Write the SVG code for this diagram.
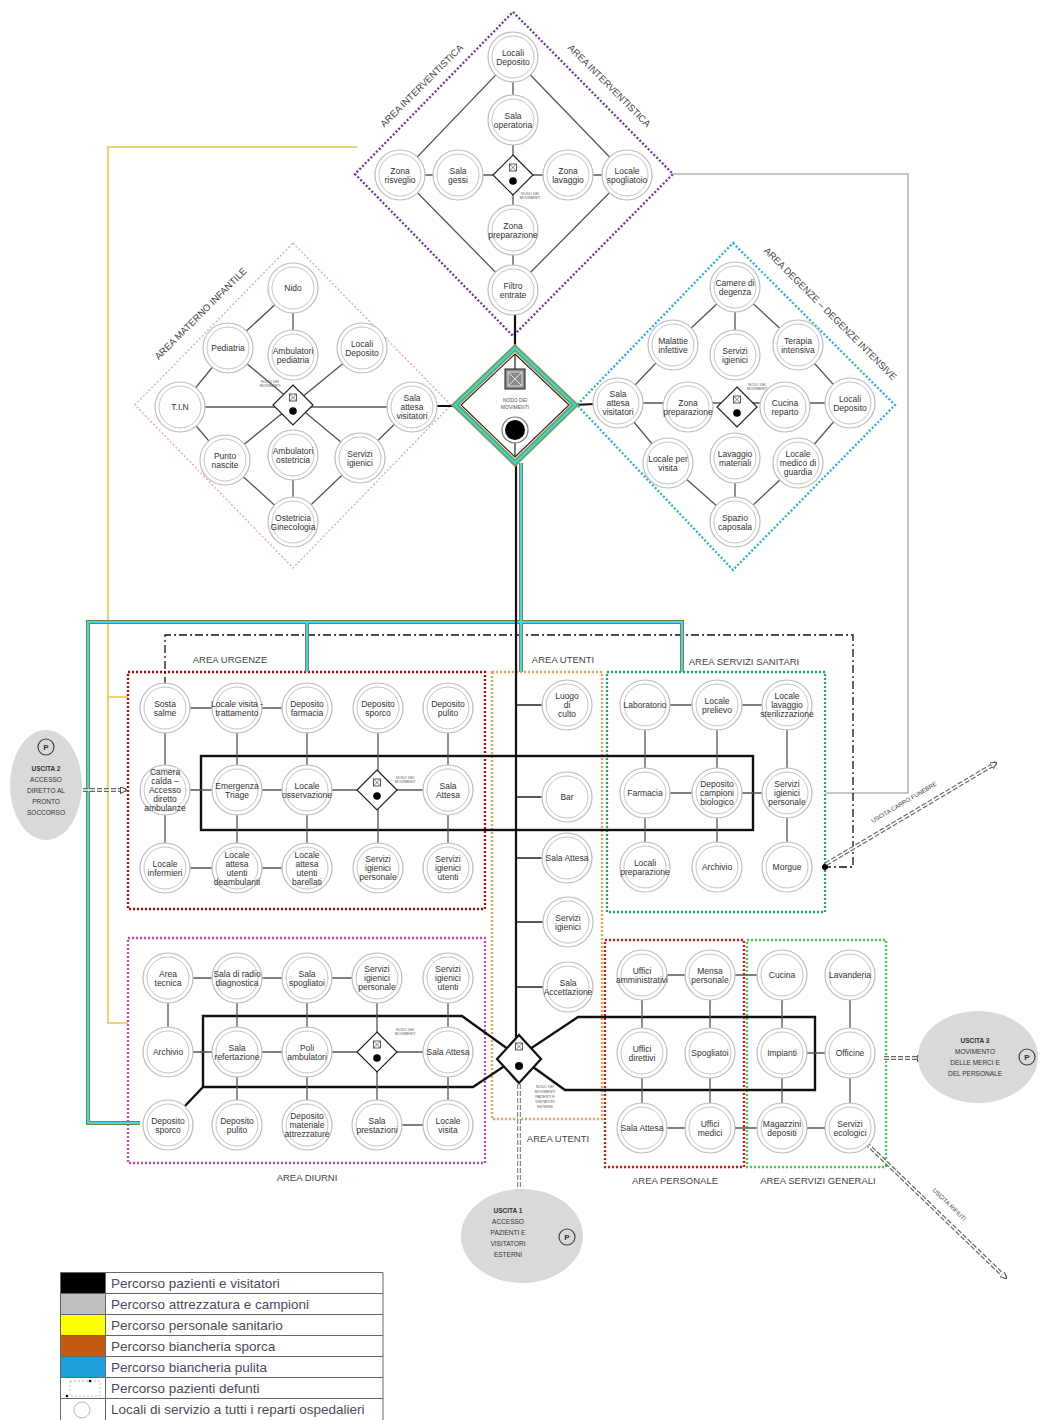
<svg xmlns="http://www.w3.org/2000/svg" xmlns:xlink="http://www.w3.org/1999/xlink" width="1043" height="1420" viewBox="0 0 1043 1420">
<defs>
<style>
.t{font-family:"Liberation Sans",Arial,sans-serif;font-size:8.5px;fill:#333;text-anchor:middle}
.lbl{font-family:"Liberation Sans",Arial,sans-serif;font-size:9.5px;fill:#444;text-anchor:middle}
.tiny{font-family:"Liberation Sans",Arial,sans-serif;font-size:3.6px;fill:#555;text-anchor:middle}
.ex{font-family:"Liberation Sans",Arial,sans-serif;font-size:6.5px;fill:#333;text-anchor:middle}
.exb{font-weight:bold}
.lg{font-family:"Liberation Sans",Arial,sans-serif;font-size:13.5px;fill:#4a4a60}
.c{stroke:#555;stroke-width:1.3;fill:none}
.area{fill:none;stroke-width:2.3;stroke-dasharray:2 2}
.blk{fill:none;stroke:#111;stroke-width:2.4}
.tealo{fill:none;stroke:#7a8048;stroke-width:4}
.teali{fill:none;stroke:#45d6e0;stroke-width:2.2}
.dbl{fill:none;stroke:#666;stroke-width:4;stroke-dasharray:5 2}
.dbli{fill:none;stroke:#fff;stroke-width:1.6}
.def{fill:none;stroke:#111;stroke-width:1.3;stroke-dasharray:8 3 2 3}
</style>
<g id="ring"><circle r="25" fill="#fff" stroke="#bdbdbd" stroke-width="1.2"/><circle r="21" fill="none" stroke="#c6c6c6" stroke-width="1"/></g>
<g id="mini"><path d="M0,-20 L20,0 L0,20 L-20,0Z" fill="#fff" stroke="#222" stroke-width="1.2"/><rect x="-3.5" y="-11" width="7" height="7" fill="none" stroke="#333" stroke-width="0.8"/><path d="M-3.5,-11 L3.5,-4 M3.5,-11 L-3.5,-4" stroke="#333" stroke-width="0.6"/><circle cy="6" r="3.8" fill="#000"/></g>
<g id="pk"><circle r="8" fill="none" stroke="#444" stroke-width="1.2"/><text y="3" class="ex exb" style="font-size:8px">P</text></g>
<marker id="ar" viewBox="0 0 10 10" refX="8" refY="5" markerWidth="7" markerHeight="7" orient="auto" markerUnits="userSpaceOnUse"><path d="M0,0 L10,5 L0,10z" fill="#fff" stroke="#555" stroke-width="1.5"/></marker>
</defs>
<rect width="1043" height="1420" fill="#fff"/>

<!-- area outlines -->
<g id="areas">
<polygon class="area" points="513,12 673,174 513,336 355,174" stroke="#7030a0"/>
<polygon class="area" points="293,243 451,405 293,568 135,405" stroke="#e6a3b5" style="stroke-width:1.3"/>
<polygon class="area" points="733,243 895,405 733,570 577,405" stroke="#23b3d6"/>
<rect class="area" x="128" y="672" width="357" height="237" stroke="#c00000"/>
<rect class="area" x="492" y="672" width="110" height="447" stroke="#f0a050"/>
<rect class="area" x="607" y="672" width="218" height="240" stroke="#10b060"/>
<rect class="area" x="128" y="938" width="357" height="225" stroke="#d040b0"/>
<rect class="area" x="605" y="940" width="139" height="227" stroke="#e01010"/>
<rect class="area" x="747" y="940" width="139" height="227" stroke="#40d040"/>
<text class="lbl" transform="translate(424,88) rotate(-45)">AREA INTERVENTISTICA</text>
<text class="lbl" transform="translate(607,88) rotate(45)">AREA INTERVENTISTICA</text>
<text class="lbl" transform="translate(203,316) rotate(-45)">AREA MATERNO INFANTILE</text>
<text class="lbl" transform="translate(828,316) rotate(45)">AREA DEGENZE – DEGENZE INTENSIVE</text>
<text class="lbl" x="230" y="663">AREA URGENZE</text>
<text class="lbl" x="563" y="663">AREA UTENTI</text>
<text class="lbl" x="744" y="665">AREA SERVIZI SANITARI</text>
<text class="lbl" x="307" y="1181">AREA DIURNI</text>
<text class="lbl" x="558" y="1142">AREA UTENTI</text>
<text class="lbl" x="675" y="1184">AREA PERSONALE</text>
<text class="lbl" x="818" y="1184">AREA SERVIZI GENERALI</text>
</g>

<!-- connectors -->
<g id="connectors">
<!-- routes -->
<path d="M357,147 L108,147 L108,1023 L128,1023 M108,697 L128,697" fill="none" stroke="#f2c445" stroke-width="1.6"/>
<path d="M673,174 L908,174 L908,793 L826,793" fill="none" stroke="#b3b3b3" stroke-width="1.6"/>
<path class="def" d="M165,685 L165,635 L853,635 L853,867 L826,867"/>
<circle cx="165" cy="686" r="3" fill="#000"/>
<circle cx="825" cy="867" r="3" fill="#000"/>
<path class="tealo" d="M140,1123 L88,1123 L88,622 L682,622 L682,672 M307,622 L307,672 M521,463 L521,672"/>
<path class="teali" d="M140,1123 L88,1123 L88,622 L682,622 L682,672 M307,622 L307,672 M521,463 L521,672"/>
<path d="M515,313 L515,350 M437,406 L457,406 M573,405 L595,404" fill="none" stroke="#111" stroke-width="2.2"/>
<path d="M516,460 L516,1037" fill="none" stroke="#111" stroke-width="2.2"/>
<path d="M516,705 L542,705 M516,797 L542,797 M516,858 L542,858 M516,922 L543,922 M516,987 L543,987" fill="none" stroke="#222" stroke-width="1.4"/>
<rect class="blk" x="201" y="756" width="552" height="74"/>
<path class="blk" d="M203,1016 L462,1016 L565,1090 L815,1090 L815,1017 L578,1017 L473,1087 L203,1087 Z M203,1087 L185,1106"/>
<!-- exits -->
<path class="dbl" d="M83,790 L126,790"/><path class="dbli" d="M83,790 L126,790" marker-end="url(#ar)"/>
<path class="dbl" d="M884,1058 L923,1058"/><path class="dbli" d="M884,1058 L923,1058" marker-end="url(#ar)"/>
<path class="dbl" d="M826,864 L996,763"/><path class="dbli" d="M826,864 L996,763" marker-end="url(#ar)"/>
<path class="dbl" d="M866,1143 L1006,1278"/><path class="dbli" d="M866,1143 L1006,1278" marker-end="url(#ar)"/>
<path class="dbl" d="M519,1084 L519,1190" style="stroke:#7a8aa0"/><path class="dbli" d="M519,1084 L519,1190"/>
<text class="ex" transform="translate(905,804) rotate(-30.7)" style="font-size:6px">USCITA CARRO FUNEBRE</text>
<text class="ex" transform="translate(948,1206) rotate(44)" style="font-size:6px">USCITA RIFIUTI</text>
<!-- interventistica -->
<path class="c" d="M513,57 L513,290 M400,175 L627,175 M513,57 L400,175 L513,290 L627,175 Z"/>
<!-- materno infantile -->
<path class="c" d="M293,288 L228,348 M293,288 L293,355 M228,348 L180,407 L225,460 L293,522 L360,458 L412,407 M293,522 L293,455 M180,407 L412,407 M228,348 L360,458 M362,348 L225,460"/>
<!-- degenze -->
<path class="c" d="M735,287 L673,345 L618,403 L668,463 L735,522 L798,463 L850,403 L798,345 L735,287 M735,287 L735,355 M735,458 L735,522 M618,403 L850,403"/>
<!-- urgenze -->
<path class="c" d="M165,708 L307,708 M165,790 L448,790 M165,868 L307,868 M165,708 L165,868 M237,708 L237,868 M307,708 L307,868 M378,708 L378,868 M448,708 L448,868"/>
<!-- servizi sanitari -->
<path class="c" d="M645,705 L787,705 M645,793 L787,793 M645,705 L645,867 M717,705 L717,867 M787,705 L787,867"/>
<!-- diurni -->
<path class="c" d="M168,978 L377,978 M168,1052 L448,1052 M377,1125 L448,1125 M168,978 L168,1052 M237,978 L237,1125 M307,978 L307,1125 M377,978 L377,1125 M448,978 L448,1125"/>
<!-- personale / generali -->
<path class="c" d="M642,975 L782,975 M782,1053 L850,1053 M642,1128 L850,1128 M642,975 L642,1128 M710,975 L710,1128 M782,975 L782,1128 M850,975 L850,1128"/>
</g>

<!-- central node -->
<g id="nodo-movimenti">
<path d="M515,348 L575,405 L515,463 L455,405 Z" fill="#fff" stroke="#c89a50" stroke-width="6"/>
<path d="M515,348 L575,405 L515,463 L455,405 Z" fill="none" stroke="#3fae6e" stroke-width="4.2"/>
<path d="M515,348 L575,405 L515,463 L455,405 Z" fill="none" stroke="#45d3e0" stroke-width="2"/>
<path d="M515,354 L569,405 L515,457 L461,405 Z" fill="none" stroke="#222" stroke-width="1.1"/>
<path d="M515,354 L515,369 M515,443 L515,457" stroke="#222" stroke-width="1.2"/>
<rect x="505" y="369" width="20" height="20" fill="#8a8a8a" stroke="#222" stroke-width="1"/>
<rect x="508" y="372" width="14" height="14" fill="none" stroke="#eee" stroke-width="0.8"/>
<path d="M508,372 L522,386 M522,372 L508,386" stroke="#eee" stroke-width="0.9"/>
<text class="tiny" x="515" y="402" style="font-size:5px">NODO DEI</text>
<text class="tiny" x="515" y="409" style="font-size:5px">MOVIMENTI</text>
<circle cx="515" cy="430" r="13" fill="#fff" stroke="#777" stroke-width="1.2"/>
<circle cx="515" cy="430" r="10" fill="#000"/>
</g>

<!-- mini nodes -->
<g id="mini-interventistica"><use href="#mini" x="513" y="175"/><text class="tiny" x="530" y="195">NODO DEI</text><text class="tiny" x="530" y="199">MOVIMENTI</text></g>
<g id="mini-materno"><use href="#mini" x="293" y="405"/><text class="tiny" x="270" y="383">NODO DEI</text><text class="tiny" x="270" y="387">MOVIMENTI</text></g>
<g id="mini-degenze"><use href="#mini" x="737" y="407"/><text class="tiny" x="757" y="386">NODO DEI</text><text class="tiny" x="757" y="390">MOVIMENTI</text></g>
<g id="mini-urgenze"><use href="#mini" x="377" y="790"/><text class="tiny" x="405" y="779">NODO DEI</text><text class="tiny" x="405" y="783">MOVIMENTI</text></g>
<g id="mini-diurni"><use href="#mini" x="377" y="1052"/><text class="tiny" x="405" y="1031">NODO DEI</text><text class="tiny" x="405" y="1035">MOVIMENTI</text></g>
<g id="mini-utenti">
<path d="M519,1035 L541,1059 L519,1083 L497,1059 Z" fill="#fff" stroke="#111" stroke-width="2.2"/>
<rect x="515.5" y="1043" width="7" height="7" fill="none" stroke="#333" stroke-width="0.8"/><path d="M515.5,1043 L522.5,1050 M522.5,1043 L515.5,1050" stroke="#333" stroke-width="0.6"/>
<circle cx="519" cy="1066" r="4" fill="#000"/>
<text class="tiny" x="545" y="1088">NODO DEI</text><text class="tiny" x="545" y="1093">MOVIMENTI</text><text class="tiny" x="545" y="1098">PAZIENTI E</text><text class="tiny" x="545" y="1103">VISITATORI</text><text class="tiny" x="545" y="1108">ESTERNI</text>
</g>

<!-- interventistica nodes -->
<g id="int-locali-deposito" transform="translate(513,57)"><use href="#ring"/><text class="t"><tspan x="0" y="-1.5">Locali</tspan><tspan x="0" y="7.5">Deposito</tspan></text></g>
<g id="int-sala-operatoria" transform="translate(513,120)"><use href="#ring"/><text class="t"><tspan x="0" y="-1.5">Sala</tspan><tspan x="0" y="7.5">operatoria</tspan></text></g>
<g id="int-zona-risveglio" transform="translate(400,175)"><use href="#ring"/><text class="t"><tspan x="0" y="-1.5">Zona</tspan><tspan x="0" y="7.5">risveglio</tspan></text></g>
<g id="int-sala-gessi" transform="translate(458,175)"><use href="#ring"/><text class="t"><tspan x="0" y="-1.5">Sala</tspan><tspan x="0" y="7.5">gessi</tspan></text></g>
<g id="int-zona-lavaggio" transform="translate(568,175)"><use href="#ring"/><text class="t"><tspan x="0" y="-1.5">Zona</tspan><tspan x="0" y="7.5">lavaggio</tspan></text></g>
<g id="int-locale-spogliatoio" transform="translate(627,175)"><use href="#ring"/><text class="t"><tspan x="0" y="-1.5">Locale</tspan><tspan x="0" y="7.5">spogliatoio</tspan></text></g>
<g id="int-zona-preparazione" transform="translate(513,230)"><use href="#ring"/><text class="t"><tspan x="0" y="-1.5">Zona</tspan><tspan x="0" y="7.5">preparazione</tspan></text></g>
<g id="int-filtro-entrate" transform="translate(513,290)"><use href="#ring"/><text class="t"><tspan x="0" y="-1.5">Filtro</tspan><tspan x="0" y="7.5">entrate</tspan></text></g>

<!-- materno infantile nodes -->
<g id="mat-nido" transform="translate(293,288)"><use href="#ring"/><text class="t"><tspan x="0" y="3">Nido</tspan></text></g>
<g id="mat-pediatria" transform="translate(228,348)"><use href="#ring"/><text class="t"><tspan x="0" y="3">Pediatria</tspan></text></g>
<g id="mat-ambulatori-pediatria" transform="translate(293,355)"><use href="#ring"/><text class="t"><tspan x="0" y="-1.5">Ambulatori</tspan><tspan x="0" y="7.5">pediatria</tspan></text></g>
<g id="mat-locali-deposito" transform="translate(362,348)"><use href="#ring"/><text class="t"><tspan x="0" y="-1.5">Locali</tspan><tspan x="0" y="7.5">Deposito</tspan></text></g>
<g id="mat-tin" transform="translate(180,407)"><use href="#ring"/><text class="t"><tspan x="0" y="3">T.I.N</tspan></text></g>
<g id="mat-sala-attesa" transform="translate(412,407)"><use href="#ring"/><text class="t"><tspan x="0" y="-6">Sala</tspan><tspan x="0" y="3">attesa</tspan><tspan x="0" y="12">visitatori</tspan></text></g>
<g id="mat-punto-nascite" transform="translate(225,460)"><use href="#ring"/><text class="t"><tspan x="0" y="-1.5">Punto</tspan><tspan x="0" y="7.5">nascite</tspan></text></g>
<g id="mat-ambulatori-ostetricia" transform="translate(293,455)"><use href="#ring"/><text class="t"><tspan x="0" y="-1.5">Ambulatori</tspan><tspan x="0" y="7.5">ostetricia</tspan></text></g>
<g id="mat-servizi-igienici" transform="translate(360,458)"><use href="#ring"/><text class="t"><tspan x="0" y="-1.5">Servizi</tspan><tspan x="0" y="7.5">igienici</tspan></text></g>
<g id="mat-ostetricia" transform="translate(293,522)"><use href="#ring"/><text class="t"><tspan x="0" y="-1.5">Ostetricia</tspan><tspan x="0" y="7.5">Ginecologia</tspan></text></g>

<!-- degenze nodes -->
<g id="deg-camere" transform="translate(735,287)"><use href="#ring"/><text class="t"><tspan x="0" y="-1.5">Camere di</tspan><tspan x="0" y="7.5">degenza</tspan></text></g>
<g id="deg-malattie" transform="translate(673,345)"><use href="#ring"/><text class="t"><tspan x="0" y="-1.5">Malattie</tspan><tspan x="0" y="7.5">infettive</tspan></text></g>
<g id="deg-servizi" transform="translate(735,355)"><use href="#ring"/><text class="t"><tspan x="0" y="-1.5">Servizi</tspan><tspan x="0" y="7.5">igienici</tspan></text></g>
<g id="deg-terapia" transform="translate(798,345)"><use href="#ring"/><text class="t"><tspan x="0" y="-1.5">Terapia</tspan><tspan x="0" y="7.5">intensiva</tspan></text></g>
<g id="deg-sala-attesa" transform="translate(618,403)"><use href="#ring"/><text class="t"><tspan x="0" y="-6">Sala</tspan><tspan x="0" y="3">attesa</tspan><tspan x="0" y="12">visitatori</tspan></text></g>
<g id="deg-zona-preparazione" transform="translate(688,407)"><use href="#ring"/><text class="t"><tspan x="0" y="-1.5">Zona</tspan><tspan x="0" y="7.5">preparazione</tspan></text></g>
<g id="deg-cucina" transform="translate(785,407)"><use href="#ring"/><text class="t"><tspan x="0" y="-1.5">Cucina</tspan><tspan x="0" y="7.5">reparto</tspan></text></g>
<g id="deg-locali-deposito" transform="translate(850,403)"><use href="#ring"/><text class="t"><tspan x="0" y="-1.5">Locali</tspan><tspan x="0" y="7.5">Deposito</tspan></text></g>
<g id="deg-locale-visita" transform="translate(668,463)"><use href="#ring"/><text class="t"><tspan x="0" y="-1.5">Locale per</tspan><tspan x="0" y="7.5">visita</tspan></text></g>
<g id="deg-lavaggio" transform="translate(735,458)"><use href="#ring"/><text class="t"><tspan x="0" y="-1.5">Lavaggio</tspan><tspan x="0" y="7.5">materiali</tspan></text></g>
<g id="deg-medico" transform="translate(798,463)"><use href="#ring"/><text class="t"><tspan x="0" y="-6">Locale</tspan><tspan x="0" y="3">medico di</tspan><tspan x="0" y="12">guardia</tspan></text></g>
<g id="deg-caposala" transform="translate(735,522)"><use href="#ring"/><text class="t"><tspan x="0" y="-1.5">Spazio</tspan><tspan x="0" y="7.5">caposala</tspan></text></g>

<!-- urgenze nodes -->
<g id="urg-sosta-salme" transform="translate(165,708)"><use href="#ring"/><text class="t"><tspan x="0" y="-1.5">Sosta</tspan><tspan x="0" y="7.5">salme</tspan></text></g>
<g id="urg-locale-visita" transform="translate(237,708)"><use href="#ring"/><text class="t"><tspan x="0" y="-1.5">Locale visita -</tspan><tspan x="0" y="7.5">trattamento</tspan></text></g>
<g id="urg-deposito-farmacia" transform="translate(307,708)"><use href="#ring"/><text class="t"><tspan x="0" y="-1.5">Deposito</tspan><tspan x="0" y="7.5">farmacia</tspan></text></g>
<g id="urg-deposito-sporco" transform="translate(378,708)"><use href="#ring"/><text class="t"><tspan x="0" y="-1.5">Deposito</tspan><tspan x="0" y="7.5">sporco</tspan></text></g>
<g id="urg-deposito-pulito" transform="translate(448,708)"><use href="#ring"/><text class="t"><tspan x="0" y="-1.5">Deposito</tspan><tspan x="0" y="7.5">pulito</tspan></text></g>
<g id="urg-camera-calda" transform="translate(165,790)"><use href="#ring"/><text class="t"><tspan x="0" y="-15">Camera</tspan><tspan x="0" y="-6">calda –</tspan><tspan x="0" y="3">Accesso</tspan><tspan x="0" y="12">diretto</tspan><tspan x="0" y="21">ambulanze</tspan></text></g>
<g id="urg-emergenza" transform="translate(237,790)"><use href="#ring"/><text class="t"><tspan x="0" y="-1.5">Emergenza</tspan><tspan x="0" y="7.5">Triage</tspan></text></g>
<g id="urg-osservazione" transform="translate(307,790)"><use href="#ring"/><text class="t"><tspan x="0" y="-1.5">Locale</tspan><tspan x="0" y="7.5">osservazione</tspan></text></g>
<g id="urg-sala-attesa" transform="translate(448,790)"><use href="#ring"/><text class="t"><tspan x="0" y="-1.5">Sala</tspan><tspan x="0" y="7.5">Attesa</tspan></text></g>
<g id="urg-infermieri" transform="translate(165,868)"><use href="#ring"/><text class="t"><tspan x="0" y="-1.5">Locale</tspan><tspan x="0" y="7.5">infermieri</tspan></text></g>
<g id="urg-attesa-deambulanti" transform="translate(237,868)"><use href="#ring"/><text class="t"><tspan x="0" y="-10.5">Locale</tspan><tspan x="0" y="-1.5">attesa</tspan><tspan x="0" y="7.5">utenti</tspan><tspan x="0" y="16.5">deambulanti</tspan></text></g>
<g id="urg-attesa-barellati" transform="translate(307,868)"><use href="#ring"/><text class="t"><tspan x="0" y="-10.5">Locale</tspan><tspan x="0" y="-1.5">attesa</tspan><tspan x="0" y="7.5">utenti</tspan><tspan x="0" y="16.5">barellati</tspan></text></g>
<g id="urg-servizi-personale" transform="translate(378,868)"><use href="#ring"/><text class="t"><tspan x="0" y="-6">Servizi</tspan><tspan x="0" y="3">igienici</tspan><tspan x="0" y="12">personale</tspan></text></g>
<g id="urg-servizi-utenti" transform="translate(448,868)"><use href="#ring"/><text class="t"><tspan x="0" y="-6">Servizi</tspan><tspan x="0" y="3">igienici</tspan><tspan x="0" y="12">utenti</tspan></text></g>

<!-- utenti nodes -->
<g id="ute-culto" transform="translate(567,705)"><use href="#ring"/><text class="t"><tspan x="0" y="-6">Luogo</tspan><tspan x="0" y="3">di</tspan><tspan x="0" y="12">culto</tspan></text></g>
<g id="ute-bar" transform="translate(567,797)"><use href="#ring"/><text class="t"><tspan x="0" y="3">Bar</tspan></text></g>
<g id="ute-sala-attesa" transform="translate(567,858)"><use href="#ring"/><text class="t"><tspan x="0" y="3">Sala Attesa</tspan></text></g>
<g id="ute-servizi" transform="translate(568,922)"><use href="#ring"/><text class="t"><tspan x="0" y="-1.5">Servizi</tspan><tspan x="0" y="7.5">igienici</tspan></text></g>
<g id="ute-accettazione" transform="translate(568,987)"><use href="#ring"/><text class="t"><tspan x="0" y="-1.5">Sala</tspan><tspan x="0" y="7.5">Accettazione</tspan></text></g>

<!-- servizi sanitari nodes -->
<g id="san-laboratorio" transform="translate(645,705)"><use href="#ring"/><text class="t"><tspan x="0" y="3">Laboratorio</tspan></text></g>
<g id="san-prelievo" transform="translate(717,705)"><use href="#ring"/><text class="t"><tspan x="0" y="-1.5">Locale</tspan><tspan x="0" y="7.5">prelievo</tspan></text></g>
<g id="san-lavaggio" transform="translate(787,705)"><use href="#ring"/><text class="t"><tspan x="0" y="-6">Locale</tspan><tspan x="0" y="3">lavaggio</tspan><tspan x="0" y="12">sterilizzazione</tspan></text></g>
<g id="san-farmacia" transform="translate(645,793)"><use href="#ring"/><text class="t"><tspan x="0" y="3">Farmacia</tspan></text></g>
<g id="san-campioni" transform="translate(717,793)"><use href="#ring"/><text class="t"><tspan x="0" y="-6">Deposito</tspan><tspan x="0" y="3">campioni</tspan><tspan x="0" y="12">biologico</tspan></text></g>
<g id="san-servizi" transform="translate(787,793)"><use href="#ring"/><text class="t"><tspan x="0" y="-6">Servizi</tspan><tspan x="0" y="3">igienici</tspan><tspan x="0" y="12">personale</tspan></text></g>
<g id="san-preparazione" transform="translate(645,867)"><use href="#ring"/><text class="t"><tspan x="0" y="-1.5">Locali</tspan><tspan x="0" y="7.5">preparazione</tspan></text></g>
<g id="san-archivio" transform="translate(717,867)"><use href="#ring"/><text class="t"><tspan x="0" y="3">Archivio</tspan></text></g>
<g id="san-morgue" transform="translate(787,867)"><use href="#ring"/><text class="t"><tspan x="0" y="3">Morgue</tspan></text></g>

<!-- diurni nodes -->
<g id="diu-area-tecnica" transform="translate(168,978)"><use href="#ring"/><text class="t"><tspan x="0" y="-1.5">Area</tspan><tspan x="0" y="7.5">tecnica</tspan></text></g>
<g id="diu-radio" transform="translate(237,978)"><use href="#ring"/><text class="t"><tspan x="0" y="-1.5">Sala di radio</tspan><tspan x="0" y="7.5">diagnostica</tspan></text></g>
<g id="diu-spogliatoi" transform="translate(307,978)"><use href="#ring"/><text class="t"><tspan x="0" y="-1.5">Sala</tspan><tspan x="0" y="7.5">spogliatoi</tspan></text></g>
<g id="diu-servizi-personale" transform="translate(377,978)"><use href="#ring"/><text class="t"><tspan x="0" y="-6">Servizi</tspan><tspan x="0" y="3">igienici</tspan><tspan x="0" y="12">personale</tspan></text></g>
<g id="diu-servizi-utenti" transform="translate(448,978)"><use href="#ring"/><text class="t"><tspan x="0" y="-6">Servizi</tspan><tspan x="0" y="3">igienici</tspan><tspan x="0" y="12">utenti</tspan></text></g>
<g id="diu-archivio" transform="translate(168,1052)"><use href="#ring"/><text class="t"><tspan x="0" y="3">Archivio</tspan></text></g>
<g id="diu-refertazione" transform="translate(237,1052)"><use href="#ring"/><text class="t"><tspan x="0" y="-1.5">Sala</tspan><tspan x="0" y="7.5">refertazione</tspan></text></g>
<g id="diu-poli" transform="translate(307,1052)"><use href="#ring"/><text class="t"><tspan x="0" y="-1.5">Poli</tspan><tspan x="0" y="7.5">ambulatori</tspan></text></g>
<g id="diu-sala-attesa" transform="translate(448,1052)"><use href="#ring"/><text class="t"><tspan x="0" y="3">Sala Attesa</tspan></text></g>
<g id="diu-deposito-sporco" transform="translate(168,1125)"><use href="#ring"/><text class="t"><tspan x="0" y="-1.5">Deposito</tspan><tspan x="0" y="7.5">sporco</tspan></text></g>
<g id="diu-deposito-pulito" transform="translate(237,1125)"><use href="#ring"/><text class="t"><tspan x="0" y="-1.5">Deposito</tspan><tspan x="0" y="7.5">pulito</tspan></text></g>
<g id="diu-deposito-materiale" transform="translate(307,1125)"><use href="#ring"/><text class="t"><tspan x="0" y="-6">Deposito</tspan><tspan x="0" y="3">materiale</tspan><tspan x="0" y="12">attrezzature</tspan></text></g>
<g id="diu-prestazioni" transform="translate(377,1125)"><use href="#ring"/><text class="t"><tspan x="0" y="-1.5">Sala</tspan><tspan x="0" y="7.5">prestazioni</tspan></text></g>
<g id="diu-locale-visita" transform="translate(448,1125)"><use href="#ring"/><text class="t"><tspan x="0" y="-1.5">Locale</tspan><tspan x="0" y="7.5">visita</tspan></text></g>

<!-- personale nodes -->
<g id="per-amministrativi" transform="translate(642,975)"><use href="#ring"/><text class="t"><tspan x="0" y="-1.5">Uffici</tspan><tspan x="0" y="7.5">amministrativi</tspan></text></g>
<g id="per-mensa" transform="translate(710,975)"><use href="#ring"/><text class="t"><tspan x="0" y="-1.5">Mensa</tspan><tspan x="0" y="7.5">personale</tspan></text></g>
<g id="per-direttivi" transform="translate(642,1053)"><use href="#ring"/><text class="t"><tspan x="0" y="-1.5">Uffici</tspan><tspan x="0" y="7.5">direttivi</tspan></text></g>
<g id="per-spogliatoi" transform="translate(710,1053)"><use href="#ring"/><text class="t"><tspan x="0" y="3">Spogliatoi</tspan></text></g>
<g id="per-sala-attesa" transform="translate(642,1128)"><use href="#ring"/><text class="t"><tspan x="0" y="3">Sala Attesa</tspan></text></g>
<g id="per-medici" transform="translate(710,1128)"><use href="#ring"/><text class="t"><tspan x="0" y="-1.5">Uffici</tspan><tspan x="0" y="7.5">medici</tspan></text></g>

<!-- servizi generali nodes -->
<g id="gen-cucina" transform="translate(782,975)"><use href="#ring"/><text class="t"><tspan x="0" y="3">Cucina</tspan></text></g>
<g id="gen-lavanderia" transform="translate(850,975)"><use href="#ring"/><text class="t"><tspan x="0" y="3">Lavanderia</tspan></text></g>
<g id="gen-impianti" transform="translate(782,1053)"><use href="#ring"/><text class="t"><tspan x="0" y="3">Impianti</tspan></text></g>
<g id="gen-officine" transform="translate(850,1053)"><use href="#ring"/><text class="t"><tspan x="0" y="3">Officine</tspan></text></g>
<g id="gen-magazzini" transform="translate(782,1128)"><use href="#ring"/><text class="t"><tspan x="0" y="-1.5">Magazzini</tspan><tspan x="0" y="7.5">depositi</tspan></text></g>
<g id="gen-ecologici" transform="translate(850,1128)"><use href="#ring"/><text class="t"><tspan x="0" y="-1.5">Servizi</tspan><tspan x="0" y="7.5">ecologici</tspan></text></g>

<!-- exits -->
<g id="uscita-2">
<ellipse cx="46" cy="785" rx="36" ry="55" fill="#d9d9d9"/>
<use href="#pk" x="46" y="747"/>
<text class="ex"><tspan x="46" y="771" class="exb">USCITA 2</tspan><tspan x="46" y="782">ACCESSO</tspan><tspan x="46" y="793">DIRETTO AL</tspan><tspan x="46" y="804">PRONTO</tspan><tspan x="46" y="815">SOCCORSO</tspan></text>
</g>
<g id="uscita-3">
<ellipse cx="978" cy="1057" rx="60" ry="46" fill="#d9d9d9"/>
<use href="#pk" x="1027" y="1057"/>
<text class="ex"><tspan x="975" y="1043" class="exb">USCITA 3</tspan><tspan x="975" y="1054">MOVIMENTO</tspan><tspan x="975" y="1065">DELLE MERCI E</tspan><tspan x="975" y="1076">DEL PERSONALE</tspan></text>
</g>
<g id="uscita-1">
<ellipse cx="522" cy="1236" rx="61" ry="47" fill="#d9d9d9"/>
<use href="#pk" x="567" y="1237"/>
<text class="ex"><tspan x="508" y="1213" class="exb">USCITA 1</tspan><tspan x="508" y="1224">ACCESSO</tspan><tspan x="508" y="1235">PAZIENTI E</tspan><tspan x="508" y="1246">VISITATORI</tspan><tspan x="508" y="1257">ESTERNI</tspan></text>
</g>

<!-- legend -->
<g id="legend">
<rect x="60.5" y="1272.5" width="45" height="21" fill="#000"/>
<rect x="60.5" y="1293.5" width="45" height="21" fill="#bfbfbf"/>
<rect x="60.5" y="1314.5" width="45" height="21" fill="#ffff00"/>
<rect x="60.5" y="1335.5" width="45" height="21" fill="#c55a11"/>
<rect x="60.5" y="1356.5" width="45" height="21" fill="#1ea0dc"/>
<rect x="70" y="1381" width="30" height="15" fill="none" stroke="#aaa" stroke-width="0.8" stroke-dasharray="2 2"/>
<circle cx="67" cy="1396" r="1.3" fill="#000"/><circle cx="90" cy="1381" r="1.3" fill="#000"/>
<circle cx="82" cy="1410" r="8" fill="none" stroke="#bbb" stroke-width="1"/>
<path d="M60.5,1272.5 L383,1272.5 L383,1420 M60.5,1420 L60.5,1272.5 M105.5,1272.5 L105.5,1420 M60.5,1293.5 L383,1293.5 M60.5,1314.5 L383,1314.5 M60.5,1335.5 L383,1335.5 M60.5,1356.5 L383,1356.5 M60.5,1377.5 L383,1377.5 M60.5,1398.5 L383,1398.5" fill="none" stroke="#666" stroke-width="1"/>
<text class="lg" x="111" y="1288">Percorso pazienti e visitatori</text>
<text class="lg" x="111" y="1309">Percorso attrezzatura e campioni</text>
<text class="lg" x="111" y="1330">Percorso personale sanitario</text>
<text class="lg" x="111" y="1351">Percorso biancheria sporca</text>
<text class="lg" x="111" y="1372">Percorso biancheria pulita</text>
<text class="lg" x="111" y="1393">Percorso pazienti defunti</text>
<text class="lg" x="111" y="1414">Locali di servizio a tutti i reparti ospedalieri</text>
</g>
</svg>
